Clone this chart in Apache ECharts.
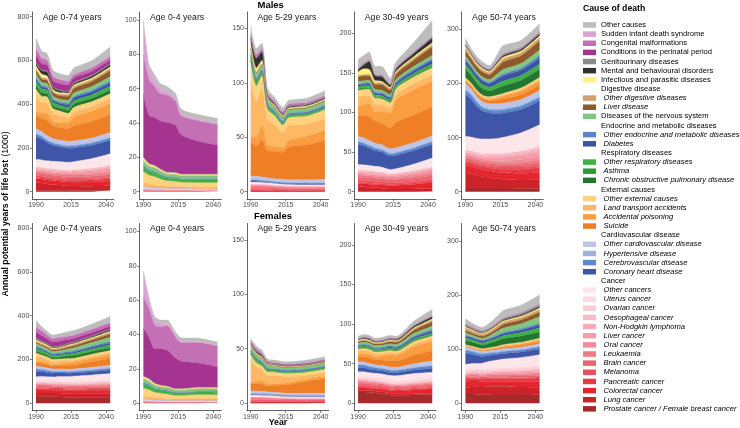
<!DOCTYPE html>
<html><head><meta charset="utf-8">
<script src="https://cdn.jsdelivr.net/npm/echarts@6/dist/echarts.min.js"></script>
<style>html,body{margin:0;padding:0;background:#fff}#c{width:740px;height:428px}</style>
</head><body><div id="c"></div>
<script>
// ---------------- DATA ----------------
const years = [1990, 1994, 1998, 2002, 2007, 2013, 2017, 2030, 2043];
const xTickLabels = [1990, 2015, 2040];
const yTicksByAge = [[0,200,400,600,800],[0,20,40,60,80,100],[0,50,100,150],[0,50,100,150,200],[0,100,200,300]];
const ageLabels = ['Age 0-74 years','Age 0-4 years','Age 5-29 years','Age 30-49 years','Age 50-74 years'];
const sexLabels = ['Males','Females'];

// causes in legend order (top of stack first)
const causes = [
 'Other causes','Sudden infant death syndrome','Congenital malformations','Conditions in the perinatal period',
 'Genitourinary diseases','Mental and behavioural disorders','Infectious and parasitic diseases',
 'Other digestive diseases','Liver disease','Diseases of the nervous system',
 'Other endocrine and metabolic diseases','Diabetes',
 'Other respiratory diseases','Asthma','Chronic obstructive pulmonary disease',
 'Other external causes','Land transport accidents','Accidental poisoning','Suicide',
 'Other cardiovascular disease','Hypertensive disease','Cerebrovascular disease','Coronary heart disease',
 'Other cancers','Uterus cancer','Ovarian cancer','Oesophageal cancer','Non-Hodgkin lymphoma','Liver cancer',
 'Oral cancer','Leukaemia','Brain cancer','Melanoma','Pancreatic cancer','Colorectal cancer','Lung cancer',
 'Prostate cancer / Female breast cancer'
];
const groupHeaders = ['Digestive disease','Endocrine and metabolic diseases','Respiratory diseases','External causes','Cardiovascular disease','Cancer'];
const legendOrder = [
 'Other causes','Sudden infant death syndrome','Congenital malformations','Conditions in the perinatal period',
 'Genitourinary diseases','Mental and behavioural disorders','Infectious and parasitic diseases',
 'Digestive disease','Other digestive diseases','Liver disease','Diseases of the nervous system',
 'Endocrine and metabolic diseases','Other endocrine and metabolic diseases','Diabetes',
 'Respiratory diseases','Other respiratory diseases','Asthma','Chronic obstructive pulmonary disease',
 'External causes','Other external causes','Land transport accidents','Accidental poisoning','Suicide',
 'Cardiovascular disease','Other cardiovascular disease','Hypertensive disease','Cerebrovascular disease','Coronary heart disease',
 'Cancer','Other cancers','Uterus cancer','Ovarian cancer','Oesophageal cancer','Non-Hodgkin lymphoma','Liver cancer',
 'Oral cancer','Leukaemia','Brain cancer','Melanoma','Pancreatic cancer','Colorectal cancer','Lung cancer',
 'Prostate cancer / Female breast cancer'
];
const plainLegendNames = ['Other causes','Sudden infant death syndrome','Congenital malformations','Conditions in the perinatal period',
 'Genitourinary diseases','Mental and behavioural disorders','Infectious and parasitic diseases','Diseases of the nervous system'].concat(groupHeaders);

const z9 = [0,0,0,0,0,0,0,0,0];

// values (1000 years) per cause, rows follow `causes`, columns follow `years`
const males0to74 = [
 [29.5,26,26,25,24.6,25,29,32.5,42.5],
 [19,7,4,3,2,1.5,1,0.6,0.5],
 [27.7,25.5,22.2,19.9,19.7,17.5,14.5,15.5,15.6],
 [37,28,28,28,29,27.5,23,19,17],
 [3.7,3.4,3.3,3.2,3.1,3.6,3.8,4,4.3],
 [11,15.7,19.6,9.1,8.9,6.2,7.2,8.1,10.6],
 [11.5,14.4,12,7.5,5.9,5.9,6.1,6.4,6.9],
 [8.4,7.8,7.6,7.3,7.3,8.1,8.7,9.2,10],
 [16.5,15.5,15.4,15.9,16.4,18.4,20.9,23,28.6],
 [15.5,14,13.7,12.9,12.5,13.9,15.5,16.8,19],
 [6.5,6.1,5.8,5.7,5.5,6.2,6.8,7.7,9.1],
 [11,9.8,9.9,10.1,10.1,12.1,13.4,14.1,16.1],
 [15,13.4,13,12.3,11.2,11.8,13,13.4,15],
 [5.5,4.6,3.8,3,2.5,2.2,2.2,2.2,2.2],
 [17,15,14,12.9,11.9,13.8,14.8,14.9,16],
 [35,29.7,28.5,23.5,21.7,19.5,20.6,22.3,23.8],
 [67,48.1,45.9,37.5,31.7,23.4,23.8,21.2,21.7],
 [18.3,23.3,32.7,18.2,22.2,27.2,39.2,47.2,49.2],
 [61,60.5,69,58,57.5,58,70,76,83],
 [20.5,19.6,18.3,18.1,17.9,18.8,18.8,19.5,20.7],
 [3,3,3,3,3,3,3,3,3.2],
 [12.5,12.3,11.1,10.3,9.8,9.8,9.8,10.6,11.4],
 [104,95,82.9,72.8,67.8,63.8,62.8,60.8,61.9],
 [34.7,35,35,35.8,36.4,36.3,37.7,44.1,53],
 z9, z9,
 [4.6,4.6,4.6,4.6,4.6,4.6,4.6,5.3,6.5],
 [6.6,6.7,6.5,6.3,5.9,5.6,5.6,6.2,7.4],
 [2.8,3.4,4,4.6,5.7,6.8,7.9,9.8,11.7],
 [4.7,4.7,4.7,4.7,4.8,5.4,6,7.5,9],
 [8.7,8.5,8.2,8,7.6,7.2,7.1,7.6,8.3],
 [10.7,10.6,10.6,10.4,10.3,10.4,10.5,11.2,12.3],
 [8,8,8,7.7,7.4,6.8,6.5,6.4,6.4],
 [6.3,6.3,6.3,6.3,6.8,7.3,7.9,9.1,10.4],
 [18.4,18.4,17.9,17.5,17.2,16.7,17,19.1,21.7],
 [36.2,33.7,30.2,27.7,25.1,22.1,21.1,19.1,20.1],
 [5.5,5.5,5.5,5.5,5.5,5.5,5.5,6,6.6]
];
const males0to4 = [
 [1,2,3,3,3,3,3,3,3],
 [19,7,4,3,2,1.5,1,0.6,0.5],
 [23,21,18,16,16,14,11,12,12],
 [37,28,28,28,29,27.5,23,19,17],
 [0.2,0.2,0.2,0.1,0.1,0.1,0.1,0.1,0.1],
 z9,
 [1.5,1.2,1,0.9,0.8,0.8,0.8,0.8,0.8],
 [0.4,0.3,0.3,0.3,0.3,0.3,0.2,0.2,0.2],
 z9,
 [2.5,2,2,1.8,1.6,1.6,1.5,1.6,1.6],
 [1,0.8,0.7,0.6,0.5,0.5,0.5,0.5,0.5],
 z9,
 [2.5,2,2,1.8,1.5,1.6,1.4,1.5,1.5],
 [0.3,0.2,0.2,0.1,0.1,0.1,0.1,0.1,0.1],
 z9,
 [6.5,5.2,5,4,3.2,3,2.6,2.8,2.8],
 [2,1.6,1.4,1.2,1,0.9,0.8,0.7,0.7],
 [0.3,0.3,0.2,0.2,0.2,0.2,0.2,0.2,0.2],
 z9,
 [1,0.9,0.8,0.8,0.7,0.7,0.7,0.6,0.6],
 z9, z9, z9,
 [0.4,0.4,0.3,0.3,0.3,0.3,0.3,0.3,0.3],
 z9, z9, z9, z9,
 [0.1,0.1,0.1,0.1,0.1,0.1,0.1,0.1,0.1],
 z9,
 [0.7,0.6,0.5,0.5,0.4,0.4,0.4,0.3,0.3],
 [0.7,0.6,0.6,0.5,0.5,0.5,0.5,0.4,0.4],
 z9, z9, z9, z9, z9
];
const males5to29 = [
 [7.5,6,5,4,3.8,3.5,3.5,4,4.5],
 z9,
 [3,2.8,2.5,2.2,2,1.9,1.9,1.8,1.8],
 z9,
 [0.3,0.3,0.3,0.3,0.3,0.3,0.3,0.3,0.3],
 [6,9,8,1.5,1.3,1.2,1.2,1.1,1.1],
 [3,3.5,2.5,1.2,0.9,0.8,0.8,0.8,0.8],
 [1,1,1,0.8,0.8,0.8,0.8,0.8,0.8],
 [0.5,0.5,0.4,0.4,0.4,0.4,0.4,0.5,0.6],
 [5,4.5,4.2,3.5,3.2,3,3,3.2,3.4],
 [1.5,1.5,1.4,1.3,1.2,1.2,1.2,1.2,1.3],
 [1,0.8,0.8,0.7,0.7,0.6,0.6,0.6,0.6],
 [3,2.5,2.2,1.8,1.5,1.4,1.4,1.4,1.5],
 [2.5,2,1.5,1,0.8,0.6,0.6,0.6,0.6],
 z9,
 [18,14,13,9,8.5,7,7,7.5,8],
 [50,33,32,24,20,14,14,11,11],
 [5,8,14,5,4.5,4,6,8,9],
 [31,28,34,25,25,25,30,32,36],
 [3.5,3.2,3,2.8,2.7,2.6,2.6,2.9,3.1],
 [0.2,0.2,0.2,0.2,0.2,0.2,0.2,0.2,0.2],
 [1,1,0.9,0.8,0.8,0.8,0.8,0.8,0.8],
 [1,1,0.9,0.8,0.8,0.8,0.8,0.8,0.9],
 [2,2,2,1.9,1.8,1.7,1.6,1.5,1.5],
 z9, z9,
 [0.1,0.1,0.1,0.1,0.1,0.1,0.1,0.1,0.1],
 [0.6,0.6,0.5,0.5,0.4,0.4,0.4,0.4,0.4],
 [0.2,0.2,0.2,0.2,0.2,0.2,0.2,0.2,0.2],
 [0.2,0.2,0.2,0.2,0.2,0.2,0.2,0.2,0.2],
 [2,1.9,1.8,1.7,1.5,1.3,1.2,1.1,1],
 [2,2,2,1.9,1.8,1.7,1.7,1.6,1.6],
 [1,1,1,0.9,0.8,0.6,0.5,0.4,0.4],
 [0.1,0.1,0.1,0.1,0.1,0.1,0.1,0.1,0.1],
 [0.4,0.4,0.4,0.5,0.5,0.5,0.5,0.6,0.7],
 [0.2,0.2,0.2,0.2,0.1,0.1,0.1,0.1,0.1],
 z9
];
const males30to49 = [
 [11,10,10,10,11,7,7,12,20],
 z9,
 [1.2,1.2,1.2,1.2,1.2,1.1,1.1,1.2,1.3],
 z9,
 [0.7,0.7,0.7,0.7,0.7,0.7,0.7,0.8,0.9],
 [3,5,10,6,6,2.5,3,4,6],
 [4,7,6,3,2,1.5,1.5,1.8,2],
 [2,2,2,2,2.2,2,2.2,2.7,3],
 [6,6,6,6.5,7,6,6.5,8,11],
 [3,3,3,3,3,2.8,3,3.5,4],
 [1.5,1.5,1.5,1.5,1.5,1.5,1.6,2,2.3],
 [2,2,2.1,2.2,2.4,2.5,2.8,3.5,4.5],
 [2.5,2.4,2.3,2.2,2.2,1.8,2.2,2.5,3],
 [1.2,1.1,1,0.9,0.8,0.7,0.7,0.8,0.8],
 [1,1,1,0.9,0.9,0.8,0.8,0.9,1],
 [8,8,8,8,7.5,6.5,8,8.5,9],
 [12,11,10,10,8.5,6.5,7,7.5,8],
 [12,14,17,11,15,19,28,32,32],
 [26,28,30,28,27,26,32,35,37],
 [6,6,5.5,5.5,5.5,5.5,5.5,6,6.5],
 [0.8,0.8,0.8,0.8,0.8,0.8,0.8,0.8,0.8],
 [3.5,3.3,3.2,3,3,3,3,3.3,3.6],
 [25,24,22,20,19,17,17,17,17],
 [7.3,7.1,6.7,6.6,6.3,5.3,5.8,8.3,11.2],
 z9, z9,
 [1,1,1,1,1,1,1,1.2,1.4],
 [2.5,2.6,2.5,2.3,2,1.7,1.7,1.8,2],
 [1,1.1,1.2,1.3,1.4,1.5,1.6,2,2.4],
 [1.5,1.5,1.5,1.5,1.6,1.7,1.8,2.3,2.8],
 [2.5,2.5,2.4,2.3,2.2,2,2,2.2,2.5],
 [4,4,4,4,4,3.7,3.8,4.2,4.8],
 [3,3,3,2.8,2.6,2.2,2,2,2],
 [1.2,1.2,1.2,1.2,1.2,1.2,1.3,1.5,1.8],
 [4,4,4,4,4.2,4.2,4.5,6,8],
 [6,5.5,5,4.5,4,3,3,3,3],
 [0.5,0.5,0.5,0.5,0.5,0.5,0.5,0.5,0.6]
];
const males50to74 = [
 [10,8,8,8,6.8,11.5,15.5,13.5,15],
 z9,
 [0.5,0.5,0.5,0.5,0.5,0.5,0.5,0.5,0.5],
 z9,
 [2.5,2.2,2.1,2.1,2,2.5,2.7,2.8,3],
 [2,1.7,1.6,1.6,1.6,2.5,3,3,3.5],
 [3,2.7,2.5,2.4,2.2,2.8,3,3,3.3],
 [5,4.5,4.3,4.2,4,5,5.5,5.5,6],
 [10,9,9,9,9,12,14,14.5,17],
 [5,4.5,4.5,4.6,4.7,6.5,8,8.5,10],
 [2.5,2.3,2.2,2.3,2.3,3,3.5,4,5],
 [8,7,7,7.2,7,9,10,10,11],
 [7,6.5,6.5,6.5,6,7,8,8,9],
 [1.5,1.3,1.1,1,0.8,0.8,0.8,0.7,0.7],
 [16,14,13,12,11,13,14,14,15],
 [2.5,2.5,2.5,2.5,2.5,3,3,3.5,4],
 [3,2.5,2.5,2.3,2.2,2,2,2,2],
 [1,1,1.5,2,2.5,4,5,7,8],
 [4,4.5,5,5,5.5,7,8,9,10],
 [10,9.5,9,9,9,10,10,10,10.5],
 [2,2,2,2,2,2,2,2,2.2],
 [8,8,7,6.5,6,6,6,6.5,7],
 [78,70,60,52,48,46,45,43,44],
 [25,25.5,26,27,28,29,30,34,40],
 z9, z9,
 [3.5,3.5,3.5,3.5,3.5,3.5,3.5,4,5],
 [3.5,3.5,3.5,3.5,3.5,3.5,3.5,4,5],
 [1.5,2,2.5,3,4,5,6,7.5,9],
 [3,3,3,3,3,3.5,4,5,6],
 [3.5,3.5,3.5,3.5,3.5,3.5,3.5,4,4.5],
 [4,4,4,4,4,4.5,4.5,5,5.5],
 [4,4,4,4,4,4,4,4,4],
 [5,5,5,5,5.5,6,6.5,7.5,8.5],
 [14,14,13.5,13,12.5,12,12,12.5,13],
 [30,28,25,23,21,19,18,16,17],
 [5,5,5,5,5,5,5,5.5,6]
];
const females0to74 = [
 [16,14.5,13.8,13,15.5,19.5,20.5,23.3,29],
 [14,5,3,2,1.5,1,0.7,0.5,0.4],
 [23.2,21.5,18.3,17,17.9,15.7,14.7,15.8,15.8],
 [28,24,20,21,21,18,16,14,12],
 [3.8,3.6,3.4,3.3,3.3,3.4,3.5,3.9,4.3],
 [2.6,3.5,4,2.6,2.8,3.3,3.8,4.8,6.1],
 [5.2,5.4,4.7,4.1,3.8,3.9,4,4.5,5],
 [6.9,6.4,6.1,5.7,5.8,6.1,6.4,7.3,8.2],
 [6.5,6,6,6,6.6,8.2,9.5,11.2,14.2],
 [11,10.6,10.1,9.6,10.4,12.5,14,15.9,19.7],
 [4.4,4.3,4.1,4,4.2,4.5,4.8,5.8,7],
 [5.6,5.4,5.2,5.3,5.4,6,6.3,7.5,8.8],
 [8.2,7.9,7.4,7.2,7.4,7.8,8.3,9.7,11.1],
 [4.2,3.8,3.2,2.6,2.2,1.9,1.9,1.9,1.9],
 [8.7,8.2,7.7,7.7,8.7,10.8,11.8,12.4,12.5],
 [13.3,12,10.5,10.1,9.5,8.9,9.1,10.6,11.2],
 [27.5,19.8,16.3,13.9,12.6,11,9.9,8.1,7.8],
 [5.4,6.9,8.5,6.2,8,11.7,11.7,16.2,18],
 [14,15,15.5,13.6,15.3,17.7,18.5,25,30],
 [10.9,10.4,9.9,9.5,9.4,9.5,9.6,11.1,12.6],
 [1.8,1.7,1.6,1.6,1.6,1.6,1.6,1.6,1.7],
 [10.3,9.7,8.9,8.2,7.9,7.5,7.5,7.6,8],
 [25.3,22.8,19.8,17,15.3,14.1,14.1,14.7,15.8],
 [16.7,16.7,16.4,17.6,19.8,21.9,23.3,25,26.5],
 [4.3,4.3,4.3,4.4,4.7,5,5.3,6.1,6.8],
 [6.8,6.8,6.7,6.6,6.5,6.4,6.3,6.3,6.5],
 [1.5,1.5,1.5,1.5,1.5,1.5,1.5,1.6,1.7],
 [4.3,4.3,4.2,4.1,4,3.9,3.9,4,4.3],
 [1.3,1.4,1.5,1.6,1.9,2.2,2.4,3,3.6],
 [1.7,1.7,1.7,1.8,1.9,2.1,2.2,2.6,3],
 [6.4,6.3,6,5.8,5.6,5.3,5.2,5.3,5.5],
 [7.2,7.1,7.1,7,7.1,7,7,7.3,7.7],
 [5.4,5.4,5.3,5,4.7,4.2,3.9,3.4,3.2],
 [4.9,4.9,4.9,5.1,5.4,6,6.2,7.1,8.2],
 [14.3,14.3,13.8,13.4,13.1,12.7,12.9,14.5,16.1],
 [14.6,15.6,16.6,17.1,18,18.3,18.1,16.9,15.7],
 [31.5,31.5,30.5,29,28,26,25.5,26,27]
];
const females0to4 = [
 [1,1.5,2,2,2,2,2,2,2],
 [14,5,3,2,1.5,1,0.7,0.5,0.4],
 [18.5,17,14,13,14,12,11,12,12],
 [28,24,20,21,21,18,16,14,12],
 [0.1,0.1,0.1,0.1,0.1,0.1,0.1,0.1,0.1],
 z9,
 [1.2,1.1,0.9,0.8,0.7,0.6,0.6,0.7,0.7],
 [0.3,0.3,0.3,0.2,0.2,0.2,0.2,0.2,0.2],
 z9,
 [2,1.8,1.5,1.3,1.4,1.2,1.2,1.3,1.3],
 [0.9,0.8,0.6,0.6,0.5,0.4,0.4,0.5,0.5],
 z9,
 [2.2,2,1.6,1.5,1.5,1.2,1.2,1.3,1.3],
 [0.2,0.2,0.1,0.1,0.1,0.1,0.1,0.1,0.1],
 z9,
 [4.5,4.2,3.2,2.8,2.6,2,2.1,2.6,2.5],
 [1.5,1.3,1.1,1,0.8,0.7,0.6,0.6,0.6],
 [0.2,0.2,0.2,0.2,0.2,0.2,0.2,0.2,0.2],
 z9,
 [0.9,0.8,0.7,0.7,0.6,0.6,0.6,0.6,0.6],
 z9, z9, z9,
 [0.3,0.3,0.3,0.3,0.3,0.3,0.3,0.3,0.3],
 z9, z9, z9, z9,
 [0.1,0.1,0.1,0.1,0.1,0.1,0.1,0.1,0.1],
 z9,
 [0.6,0.5,0.4,0.4,0.4,0.3,0.3,0.3,0.3],
 [0.6,0.5,0.5,0.4,0.4,0.4,0.4,0.4,0.4],
 z9, z9, z9, z9, z9
];
const females5to29 = [
 [2.5,2.5,2.3,2,2,2,2,2.3,2.5],
 z9,
 [2.2,2.1,2,1.8,1.7,1.6,1.6,1.6,1.6],
 z9,
 [0.2,0.2,0.2,0.2,0.2,0.2,0.2,0.2,0.2],
 [1,1.5,1.5,0.6,0.6,0.6,0.6,0.6,0.6],
 [1,1,0.8,0.6,0.5,0.5,0.5,0.5,0.5],
 [0.6,0.6,0.6,0.5,0.5,0.5,0.5,0.5,0.5],
 [0.2,0.2,0.2,0.2,0.2,0.2,0.2,0.2,0.2],
 [3,3,2.8,2.5,2.3,2.2,2.2,2.3,2.4],
 [1,1,1,0.9,0.9,0.9,0.9,0.9,1],
 [0.6,0.6,0.5,0.5,0.5,0.5,0.5,0.5,0.5],
 [1.5,1.4,1.3,1.2,1.1,1,1,1,1.1],
 [1.5,1.3,1.1,0.8,0.6,0.5,0.5,0.5,0.5],
 z9,
 [5,4,3.5,3.5,3,2.8,2.8,3,3.2],
 [20,13,10,8,7.5,6.5,5.5,3.5,3],
 [1.5,2,3,1.5,1.5,1.5,2,2,2.3],
 [6.5,7,7,5.5,6.5,7.5,8,11,13.5],
 [2.5,2.3,2.2,2,2,1.9,1.9,2,2.1],
 [0.1,0.1,0.1,0.1,0.1,0.1,0.1,0.1,0.1],
 [0.8,0.8,0.7,0.7,0.7,0.6,0.6,0.6,0.6],
 [0.3,0.3,0.3,0.3,0.3,0.3,0.3,0.3,0.3],
 [1.5,1.5,1.4,1.4,1.3,1.2,1.2,1.2,1.2],
 [0.3,0.3,0.3,0.3,0.3,0.3,0.3,0.3,0.3],
 [0.3,0.3,0.3,0.3,0.3,0.3,0.3,0.3,0.3],
 z9,
 [0.3,0.3,0.3,0.3,0.3,0.3,0.3,0.3,0.3],
 [0.1,0.1,0.1,0.1,0.1,0.1,0.1,0.1,0.1],
 [0.1,0.1,0.1,0.1,0.1,0.1,0.1,0.1,0.1],
 [1.5,1.5,1.4,1.3,1.2,1.1,1,0.9,0.8],
 [1.6,1.6,1.6,1.5,1.5,1.4,1.4,1.3,1.3],
 [0.9,0.9,0.9,0.8,0.7,0.5,0.4,0.3,0.3],
 [0.1,0.1,0.1,0.1,0.1,0.1,0.1,0.1,0.1],
 [0.3,0.3,0.3,0.4,0.4,0.4,0.4,0.5,0.6],
 [0.1,0.1,0.1,0.1,0.1,0.1,0.1,0.1,0.1],
 [0.5,0.5,0.5,0.5,0.5,0.5,0.5,0.5,0.5]
];
const females30to49 = [
 [2.5,3,3,3,3,3.5,2.5,5,7.5],
 z9,
 [1,1,1,1,1,0.9,0.9,1,1],
 z9,
 [0.5,0.5,0.5,0.5,0.5,0.5,0.5,0.6,0.7],
 [0.6,1,1.5,1,1,1.2,1.5,2,2.8],
 [1,1.5,1.3,1,0.9,0.9,0.9,1.1,1.3],
 [1,1,1,1,1.1,1.2,1.3,1.8,2.3],
 [1.8,1.8,1.8,2,2.2,2.5,2.8,4,5.5],
 [2.5,2.5,2.5,2.5,2.5,2.6,2.6,3.3,4],
 [1,1,1,1,1.1,1.2,1.3,1.6,2],
 [1,1,1.1,1.2,1.3,1.5,1.6,2.2,2.8],
 [1.5,1.5,1.5,1.5,1.5,1.6,1.6,1.9,2.2],
 [1,0.9,0.8,0.7,0.6,0.5,0.5,0.5,0.5],
 [0.7,0.7,0.7,0.7,0.7,0.8,0.8,0.9,1],
 [2.5,2.5,2.5,2.5,2.5,2.5,2.5,3,3.3],
 [4.5,4.2,4,3.8,3.3,2.8,2.8,3,3.2],
 [3,4,4.5,3.5,5,8,7,11,12],
 [6,6.5,7,6.5,7,8,8,11,13],
 [3.5,3.5,3.4,3.3,3.3,3.4,3.4,4.5,5.5],
 [0.5,0.5,0.5,0.5,0.5,0.5,0.5,0.5,0.5],
 [3.5,3.4,3.2,3,3,2.9,2.9,3,3.2],
 [5,5,4.5,4.2,4,3.8,3.8,4.4,5],
 [4.9,4.9,4.7,4.9,5.2,5.4,5.8,6.5,6],
 [2.5,2.5,2.4,2.4,2.5,2.6,2.7,3,3.2],
 [2.5,2.5,2.4,2.3,2.2,2.1,2,2,2],
 [0.3,0.3,0.3,0.3,0.3,0.3,0.3,0.3,0.3],
 [1.5,1.5,1.4,1.3,1.2,1.1,1.1,1.1,1.2],
 [0.3,0.3,0.3,0.3,0.4,0.4,0.4,0.5,0.6],
 [0.6,0.6,0.6,0.6,0.6,0.7,0.7,0.8,0.9],
 [1.8,1.8,1.7,1.6,1.5,1.4,1.4,1.5,1.6],
 [2.5,2.5,2.5,2.5,2.5,2.4,2.4,2.6,2.8],
 [2.5,2.5,2.4,2.2,2,1.7,1.5,1.3,1.2],
 [0.8,0.8,0.8,0.8,0.8,0.9,0.9,1,1.1],
 [3,3,3,3,3.2,3.3,3.5,4.5,5.5],
 [2.5,2.5,2.5,2.5,2.4,2.2,2,1.8,1.6],
 [14,14,13.5,13,12,10.5,10,10.5,11]
];
const females50to74 = [
 [10,7.5,6.5,6,8.5,12,14,14,17],
 z9,
 [1.5,1.4,1.3,1.2,1.2,1.2,1.2,1.2,1.2],
 z9,
 [3,2.8,2.6,2.5,2.5,2.6,2.7,3,3.3],
 [1,1,1,1,1.2,1.5,1.7,2.2,2.7],
 [2,1.8,1.7,1.7,1.7,1.9,2,2.2,2.5],
 [5,4.5,4.2,4,4,4.2,4.4,4.8,5.2],
 [4.5,4,4,3.8,4.2,5.5,6.5,7,8.5],
 [3.5,3.3,3.3,3.3,4.2,6.5,8,9,12],
 [1.5,1.5,1.5,1.5,1.7,2,2.2,2.8,3.5],
 [4,3.8,3.6,3.6,3.6,4,4.2,4.8,5.5],
 [3,3,3,3,3.3,4,4.5,5.5,6.5],
 [1.5,1.4,1.2,1,0.9,0.8,0.8,0.8,0.8],
 [8,7.5,7,7,8,10,11,11.5,11.5],
 [1.3,1.3,1.3,1.3,1.4,1.6,1.7,2,2.2],
 [1.5,1.3,1.2,1.1,1,1,1,1,1],
 [0.7,0.7,0.8,1,1.3,2,2.5,3,3.5],
 [1.5,1.5,1.5,1.6,1.8,2.2,2.5,3,3.5],
 [4,3.8,3.6,3.5,3.5,3.6,3.7,4,4.4],
 [1.2,1.1,1,1,1,1,1,1,1.1],
 [6,5.5,5,4.5,4.2,4,4,4,4.2],
 [20,17.5,15,12.5,11,10,10,10,10.5],
 [10,10,10,11,13,15,16,17,19],
 [1.5,1.5,1.6,1.7,1.9,2.1,2.3,2.8,3.3],
 [4,4,4,4,4,4,4,4,4.2],
 [1.2,1.2,1.2,1.2,1.2,1.2,1.2,1.3,1.4],
 [2.5,2.5,2.5,2.5,2.5,2.5,2.5,2.6,2.8],
 [0.8,0.9,1,1.1,1.3,1.6,1.8,2.3,2.8],
 [1,1,1,1.1,1.2,1.3,1.4,1.7,2],
 [2.5,2.5,2.5,2.5,2.5,2.5,2.5,2.6,2.8],
 [2.5,2.5,2.5,2.6,2.7,2.8,2.8,3,3.2],
 [2,2,2,2,2,2,2,1.8,1.7],
 [4,4,4,4.2,4.5,5,5.2,6,7],
 [11,11,10.5,10,9.5,9,9,9.5,10],
 [12,13,14,14.5,15.5,16,16,15,14],
 [17,17,16.5,15.5,15.5,15,15,15,15.5]
];

// ---------------- STYLE ----------------
const causeColors = [
 '#BDBDBD','#D9A3D3','#C370B5','#A4348F','#8A8A8A','#303030','#FFF185',
 '#D4A06A','#8C5A2B','#80C680','#5C84C8','#3A53A4',
 '#40B040','#2E9B3A','#23762F',
 '#FFD27F','#FDB863','#F99D40','#EE7F25',
 '#BCC4E8','#9EB0E0','#5A8ACD','#3E55A8',
 '#FDE6EA','#FCDCE1','#FACED5','#F8BEC7','#F6ADB8','#F49CA8','#F28B97','#EF7985',
 '#EC6572','#E9505B','#E63A43','#E4252D','#CC2229','#A52A2A'
];
const FONT = '"Liberation Sans", Arial, Helvetica, sans-serif';
const colLeft = [32.3, 139.65, 247, 354.35, 461.7];
const rowTop = [12, 223.5];
const PW = 81.6, PH = 187;
const yLim = [[-33.4,821.5],[-4.25,104.66],[-6.7,164.97],[-9.22,226.9],[-13.49,332]];
const panelData = [
 [males0to74, males0to4, males5to29, males30to49, males50to74],
 [females0to74, females0to4, females5to29, females30to49, females50to74]
];

const grids = [], xAxes = [], yAxes = [], series = [], graphics = [];
let idx = 0;
for (let r = 0; r < 2; r++) {
  for (let c = 0; c < 5; c++) {
    grids.push({left: colLeft[c], top: rowTop[r], width: PW, height: PH, outerBoundsMode: 'none'});
    xAxes.push({
      type: 'value', gridIndex: idx, min: 1987.35, max: 2045.65,
      axisLine: {onZero: false, lineStyle: {color: '#222', width: 0.7}},
      axisTick: {customValues: xTickLabels, length: 2.5, lineStyle: {color: '#333', width: 0.6}},
      axisLabel: {customValues: xTickLabels, fontSize: 7, color: '#4d4d4d', margin: 3, fontFamily: FONT, formatter: v => String(v)},
      splitLine: {show: false}
    });
    yAxes.push({
      type: 'value', gridIndex: idx, min: yLim[c][0], max: yLim[c][1],
      axisLine: {show: true, onZero: false, lineStyle: {color: '#222', width: 0.7}},
      axisTick: {show: true, customValues: yTicksByAge[c], length: 2.5, lineStyle: {color: '#333', width: 0.6}},
      axisLabel: {customValues: yTicksByAge[c], fontSize: 7, color: '#4d4d4d', margin: 3, fontFamily: FONT, formatter: v => String(v)},
      splitLine: {show: false}
    });
    const tbl = panelData[r][c];
    for (let i = causes.length - 1; i >= 0; i--) {
      const row = tbl[i];
      if (!row.some(v => v > 0)) continue;
      series.push({
        type: 'line', name: causes[i], xAxisIndex: idx, yAxisIndex: idx, stack: 'p' + idx,
        symbol: 'none', smooth: 0.25, silent: true,
        // value first so that the stacked dimension is the y value, year second
        encode: {x: 1, y: 0},
        lineStyle: {width: 0.4, color: causeColors[i]},
        areaStyle: {color: causeColors[i], opacity: 1},
        itemStyle: {color: causeColors[i]},
        data: years.map((y, k) => [row[k], y])
      });
    }
    graphics.push({type: 'text', x: colLeft[c] + 10.4, y: rowTop[r] + 5.3,
      style: {text: ageLabels[c], fontSize: 8.7, fontFamily: FONT, fill: '#1a1a1a', align: 'left', verticalAlign: 'middle'}});
    idx++;
  }
}
groupHeaders.forEach(h => series.push({type: 'line', name: h, data: [], xAxisIndex: 0, yAxisIndex: 0,
  symbol: 'none', itemStyle: {color: 'rgba(0,0,0,0)'}, lineStyle: {width: 0}}));

graphics.push(
  {type: 'text', x: 270.7, y: 5.5, style: {text: sexLabels[0], fontSize: 9.5, fontWeight: 'bold', fontFamily: FONT, fill: '#000', align: 'center', verticalAlign: 'middle'}},
  {type: 'text', x: 273, y: 216.7, style: {text: sexLabels[1], fontSize: 9.5, fontWeight: 'bold', fontFamily: FONT, fill: '#000', align: 'center', verticalAlign: 'middle'}},
  {type: 'text', x: 278, y: 423, style: {text: 'Year', fontSize: 8.8, fontWeight: 'bold', fontFamily: FONT, fill: '#000', align: 'center', verticalAlign: 'middle'}},
  {type: 'text', x: 583, y: 9, style: {text: 'Cause of death', fontSize: 8.7, fontWeight: 'bold', fontFamily: FONT, fill: '#000', align: 'left', verticalAlign: 'middle'}},
  {type: 'text', x: 6, y: 214, rotation: Math.PI / 2,
   style: {text: '{b|Annual potential years of life lost} {n|(1000)}', align: 'center', verticalAlign: 'middle',
     rich: {b: {fontSize: 8.7, fontWeight: 'bold', fontFamily: FONT, fill: '#000'}, n: {fontSize: 8.7, fontFamily: FONT, fill: '#000'}}}}
);

const plainSet = new Set(plainLegendNames);
const headerSet = new Set(groupHeaders);
const chart = echarts.init(document.getElementById('c'), null, {renderer: 'canvas', width: 740, height: 428});
chart.setOption({
  animation: false,
  backgroundColor: '#fff',
  grid: grids, xAxis: xAxes, yAxis: yAxes, series: series,
  legend: {
    orient: 'vertical', left: 583, top: 20.4, padding: 0, itemGap: 0,
    itemWidth: 13, itemHeight: 5.5, icon: 'rect', selectedMode: false,
    textStyle: {fontSize: 7.6, lineHeight: 9.14, color: '#000', fontFamily: FONT,
      rich: {it: {fontStyle: 'italic', fontSize: 7.6, lineHeight: 9.14, color: '#000', fontFamily: FONT, padding: [0, 0, 0, 2.5]}}},
    formatter: name => plainSet.has(name) ? name : '{it|' + name + '}',
    data: legendOrder.map(n => headerSet.has(n) ? {name: n, itemStyle: {color: 'rgba(0,0,0,0)', opacity: 0}} : {name: n})
  },
  graphic: graphics
});
</script>
</body></html>
